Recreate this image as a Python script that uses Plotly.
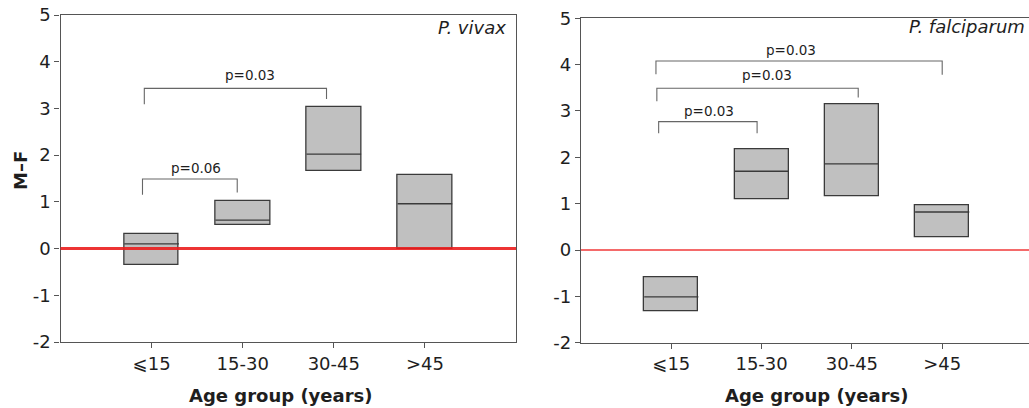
import plotly.graph_objects as go

W, H = 1029, 408

categories = ["⩽15", "15-30", "30-45", ">45"]
cat_pos = [1, 2, 3, 4]
y_ticks = [-2, -1, 0, 1, 2, 3, 4, 5]
y_ticklabels = ["-2", "-1", "0", "1", "2", "3", "4", "5"]

# P. vivax (left)
vivax_low = [-0.36, 0.51, 1.66, 0.0]
vivax_med = [0.10, 0.61, 2.02, 0.96]
vivax_high = [0.31, 1.01, 3.02, 1.57]

# P. falciparum (right)
falc_low = [-1.32, 1.10, 1.16, 0.28]
falc_med = [-1.01, 1.70, 1.86, 0.82]
falc_high = [-0.58, 2.18, 3.15, 0.96]

# significance brackets: (x_left, x_right, y_bar, y_left_end, y_right_end, label, label_x, label_y)
vivax_brackets = [
    (0.90, 1.94, 1.49, 1.15, 1.20, "p=0.06", 1.49, 1.73),
    (0.92, 2.92, 3.43, 3.09, 3.20, "p=0.03", 2.08, 3.72),
]
falc_brackets = [
    (0.86, 1.95, 2.77, 2.52, 2.52, "p=0.03", 1.42, 3.00),
    (0.84, 3.07, 3.49, 3.21, 3.29, "p=0.03", 2.06, 3.78),
    (0.83, 4.00, 4.08, 3.79, 3.78, "p=0.03", 2.33, 4.32),
]

FONT = "DejaVu Sans, Liberation Sans, Arial, sans-serif"
TXT = "#1e1e1e"
BOX_FILL = "#c0c0c0"
EDGE = "#3a3a3a"
AXIS = "#555555"
WIDTH = 0.6

fig = go.Figure()

def add_panel(low, med, high, brackets, xa, ya):
    fig.add_trace(go.Bar(
        x=cat_pos, y=[h - l for h, l in zip(high, low)], base=low, width=WIDTH,
        marker=dict(color=BOX_FILL, line=dict(color=EDGE, width=1.3)),
        xaxis=xa, yaxis=ya, showlegend=False, hoverinfo="skip"))
    mx, my = [], []
    for c, m in zip(cat_pos, med):
        mx += [c - WIDTH / 2, c + WIDTH / 2, None]
        my += [m, m, None]
    fig.add_trace(go.Scatter(x=mx, y=my, mode="lines",
                             line=dict(color=EDGE, width=1.3),
                             xaxis=xa, yaxis=ya, showlegend=False, hoverinfo="skip"))
    bx, by = [], []
    for (xl, xr, yb, yl, yr, lab, lx, ly) in brackets:
        bx += [xl, xl, xr, xr, None]
        by += [yl, yb, yb, yr, None]
        fig.add_annotation(x=lx, y=ly, xref=xa, yref=ya, text=lab, showarrow=False,
                           xanchor="center", yanchor="middle",
                           font=dict(family=FONT, size=13.5, color=TXT))
    fig.add_trace(go.Scatter(x=bx, y=by, mode="lines",
                             line=dict(color="#666666", width=1.1),
                             xaxis=xa, yaxis=ya, showlegend=False, hoverinfo="skip"))

add_panel(vivax_low, vivax_med, vivax_high, vivax_brackets, "x", "y")
add_panel(falc_low, falc_med, falc_high, falc_brackets, "x2", "y2")

# zero reference lines
fig.add_shape(type="line", xref="x domain", yref="y", x0=0, x1=1, y0=0, y1=0,
              line=dict(color="rgba(235,30,30,0.9)", width=3), layer="above")
fig.add_shape(type="line", xref="x2 domain", yref="y2", x0=0, x1=1, y0=0, y1=0,
              line=dict(color="#f03838", width=1.3), layer="above")

tickfont = dict(family=FONT, size=18, color=TXT)
common_x = dict(range=[0, 5], tickmode="array", tickvals=cat_pos, ticktext=categories,
                ticks="outside", ticklen=5, tickcolor=AXIS, showline=True, linecolor=AXIS,
                linewidth=1.2, showgrid=False, zeroline=False, tickfont=tickfont,
                automargin=False)
common_y = dict(range=[-2, 5], tickmode="array", tickvals=y_ticks, ticktext=y_ticklabels,
                ticks="outside", ticklen=5, tickcolor=AXIS,
                showline=True, linecolor=AXIS, linewidth=1.2, showgrid=False,
                zeroline=False, tickfont=tickfont, automargin=False)

fig.update_layout(
    width=W, height=H, margin=dict(l=0, r=0, t=0, b=0, autoexpand=False),
    paper_bgcolor="white", plot_bgcolor="white", bargap=0,
    xaxis=dict(common_x, domain=[60.5 / W, 516 / W], anchor="y", mirror=True),
    yaxis=dict(common_y, domain=[(H - 342) / H, (H - 15) / H], anchor="x", mirror=True),
    xaxis2=dict(common_x, range=[0, (W - 581.5) / 90.2], domain=[581 / W, 1.0],
                anchor="y2", mirror=True),
    yaxis2=dict(common_y, domain=[(H - 342.7) / H, (H - 18.3) / H], anchor="x2"),
)

# titles and panel labels
for xc in (281, 817):
    fig.add_annotation(x=xc / W, y=(H - 395) / H, xref="paper", yref="paper",
                       xanchor="center", yanchor="middle",
                       text="<b>Age group (years)</b>", showarrow=False,
                       font=dict(family=FONT, size=18, color=TXT))
fig.add_annotation(x=21 / W, y=(H - 171) / H, xref="paper", yref="paper",
                   xanchor="center", yanchor="middle",
                   text="<b>M–F</b>", textangle=-90, showarrow=False,
                   font=dict(family=FONT, size=18, color=TXT))
fig.add_annotation(x=508 / W, y=(H - 28) / H, xref="paper", yref="paper", xanchor="right",
                   yanchor="middle", text="<i>P. vivax</i>", showarrow=False,
                   font=dict(family=FONT, size=18, color=TXT))
fig.add_annotation(x=1027 / W, y=(H - 27) / H, xref="paper", yref="paper", xanchor="right",
                   yanchor="middle", text="<i>P. falciparum</i>", showarrow=False,
                   font=dict(family=FONT, size=18, color=TXT))

fig.write_html("out.html")
